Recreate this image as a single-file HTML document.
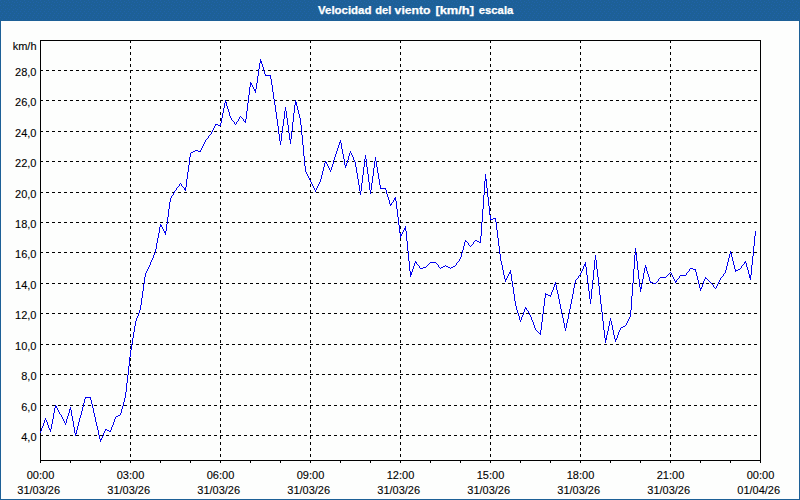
<!DOCTYPE html>
<html><head><meta charset="utf-8"><title>Velocidad del viento</title>
<style>
html,body{margin:0;padding:0;background:#fff;}
body{width:800px;height:500px;overflow:hidden;font-family:"Liberation Sans",sans-serif;}
svg{display:block;}
text{font-family:"Liberation Sans",sans-serif;font-size:11px;fill:#000;stroke:#000;stroke-width:0.1px;}
.t{font-weight:bold;fill:#fff;font-size:11px;stroke:#fff;stroke-width:0.25px;}
</style></head><body>
<svg width="800" height="500" viewBox="0 0 800 500">
<defs><pattern id="dz" width="8" height="21" patternUnits="userSpaceOnUse"><rect width="8" height="21" fill="#1d6097"/><rect x="0" y="0" width="1" height="1" fill="#2063aa"/><rect x="4" y="1" width="1" height="1" fill="#2063aa"/><rect x="1" y="2" width="1" height="1" fill="#2063aa"/><rect x="6" y="2" width="1" height="1" fill="#2063aa"/><rect x="3" y="4" width="1" height="1" fill="#2063aa"/><rect x="0" y="5" width="1" height="1" fill="#2063aa"/><rect x="5" y="5" width="1" height="1" fill="#2063aa"/><rect x="3" y="7" width="1" height="1" fill="#2063aa"/><rect x="7" y="8" width="1" height="1" fill="#2063aa"/><rect x="1" y="9" width="1" height="1" fill="#2063aa"/><rect x="5" y="9" width="1" height="1" fill="#2063aa"/><rect x="0" y="11" width="1" height="1" fill="#2063aa"/><rect x="4" y="11" width="1" height="1" fill="#2063aa"/><rect x="2" y="13" width="1" height="1" fill="#2063aa"/><rect x="6" y="13" width="1" height="1" fill="#2063aa"/><rect x="1" y="15" width="1" height="1" fill="#2063aa"/><rect x="5" y="15" width="1" height="1" fill="#2063aa"/><rect x="0" y="17" width="1" height="1" fill="#2063aa"/><rect x="4" y="17" width="1" height="1" fill="#2063aa"/><rect x="2" y="19" width="1" height="1" fill="#2063aa"/><rect x="6" y="19" width="1" height="1" fill="#2063aa"/></pattern></defs>
<rect x="0" y="0" width="800" height="500" fill="#1d6097"/>
<rect x="0" y="0" width="800" height="21" fill="url(#dz)"/>
<rect x="1" y="21" width="798" height="478" fill="#fdfefd"/>
<text class="t" x="318" y="14" textLength="53.5" lengthAdjust="spacingAndGlyphs">Velocidad</text><text class="t" x="375.3" y="14" textLength="16" lengthAdjust="spacingAndGlyphs">del</text><text class="t" x="394.6" y="14" textLength="36" lengthAdjust="spacingAndGlyphs">viento</text><text class="t" x="435.4" y="14" textLength="38.6" lengthAdjust="spacingAndGlyphs">[km/h]</text><text class="t" x="478.8" y="14" textLength="34.5" lengthAdjust="spacingAndGlyphs">escala</text>
<g shape-rendering="crispEdges" fill="none" stroke="#000" stroke-width="1">
<line x1="40" y1="70.5" x2="760" y2="70.5" stroke-dasharray="3 3"/>
<line x1="40" y1="100.5" x2="760" y2="100.5" stroke-dasharray="3 3"/>
<line x1="40" y1="131.5" x2="760" y2="131.5" stroke-dasharray="3 3"/>
<line x1="40" y1="161.5" x2="760" y2="161.5" stroke-dasharray="3 3"/>
<line x1="40" y1="192.5" x2="760" y2="192.5" stroke-dasharray="3 3"/>
<line x1="40" y1="222.5" x2="760" y2="222.5" stroke-dasharray="3 3"/>
<line x1="40" y1="252.5" x2="760" y2="252.5" stroke-dasharray="3 3"/>
<line x1="40" y1="283.5" x2="760" y2="283.5" stroke-dasharray="3 3"/>
<line x1="40" y1="313.5" x2="760" y2="313.5" stroke-dasharray="3 3"/>
<line x1="40" y1="344.5" x2="760" y2="344.5" stroke-dasharray="3 3"/>
<line x1="40" y1="374.5" x2="760" y2="374.5" stroke-dasharray="3 3"/>
<line x1="40" y1="405.5" x2="760" y2="405.5" stroke-dasharray="3 3"/>
<line x1="40" y1="435.5" x2="760" y2="435.5" stroke-dasharray="3 3"/>
<line x1="130.5" y1="40" x2="130.5" y2="460" stroke-dasharray="3 3"/>
<line x1="220.5" y1="40" x2="220.5" y2="460" stroke-dasharray="3 3"/>
<line x1="310.5" y1="40" x2="310.5" y2="460" stroke-dasharray="3 3"/>
<line x1="400.5" y1="40" x2="400.5" y2="460" stroke-dasharray="3 3"/>
<line x1="490.5" y1="40" x2="490.5" y2="460" stroke-dasharray="3 3"/>
<line x1="580.5" y1="40" x2="580.5" y2="460" stroke-dasharray="3 3"/>
<line x1="670.5" y1="40" x2="670.5" y2="460" stroke-dasharray="3 3"/>
<rect x="40.5" y="40.5" width="720" height="420"/>
<line x1="40.5" y1="461" x2="40.5" y2="463"/>
<line x1="70.5" y1="461" x2="70.5" y2="463"/>
<line x1="100.5" y1="461" x2="100.5" y2="463"/>
<line x1="130.5" y1="461" x2="130.5" y2="463"/>
<line x1="160.5" y1="461" x2="160.5" y2="463"/>
<line x1="190.5" y1="461" x2="190.5" y2="463"/>
<line x1="220.5" y1="461" x2="220.5" y2="463"/>
<line x1="250.5" y1="461" x2="250.5" y2="463"/>
<line x1="280.5" y1="461" x2="280.5" y2="463"/>
<line x1="310.5" y1="461" x2="310.5" y2="463"/>
<line x1="340.5" y1="461" x2="340.5" y2="463"/>
<line x1="370.5" y1="461" x2="370.5" y2="463"/>
<line x1="400.5" y1="461" x2="400.5" y2="463"/>
<line x1="430.5" y1="461" x2="430.5" y2="463"/>
<line x1="460.5" y1="461" x2="460.5" y2="463"/>
<line x1="490.5" y1="461" x2="490.5" y2="463"/>
<line x1="520.5" y1="461" x2="520.5" y2="463"/>
<line x1="550.5" y1="461" x2="550.5" y2="463"/>
<line x1="580.5" y1="461" x2="580.5" y2="463"/>
<line x1="610.5" y1="461" x2="610.5" y2="463"/>
<line x1="640.5" y1="461" x2="640.5" y2="463"/>
<line x1="670.5" y1="461" x2="670.5" y2="463"/>
<line x1="700.5" y1="461" x2="700.5" y2="463"/>
<line x1="730.5" y1="461" x2="730.5" y2="463"/>
<line x1="760.5" y1="461" x2="760.5" y2="463"/>
</g>
<path shape-rendering="crispEdges" fill="#0000f0" stroke="none" d="M40 431h1v2h-1zM41 428h1v3h-1zM42 426h1v2h-1zM43 423h1v3h-1zM44 420h1v3h-1zM45 418h1v2h-1zM46 420h1v2h-1zM47 422h1v3h-1zM48 425h1v3h-1zM49 428h1v2h-1zM50 429h1v3h-1zM51 424h1v5h-1zM52 419h1v5h-1zM53 413h1v6h-1zM54 408h1v5h-1zM55 405h1v3h-1zM56 406h1v2h-1zM57 408h1v2h-1zM58 410h1v2h-1zM59 412h1v2h-1zM60 414h1v1h-1zM61 415h1v2h-1zM62 417h1v2h-1zM63 419h1v2h-1zM64 421h1v2h-1zM65 423h1v2h-1zM66 419h1v4h-1zM67 416h1v3h-1zM68 413h1v3h-1zM69 409h1v4h-1zM70 407h1v3h-1zM71 410h1v6h-1zM72 416h1v5h-1zM73 421h1v6h-1zM74 427h1v6h-1zM75 433h1v3h-1zM76 430h1v4h-1zM77 426h1v4h-1zM78 422h1v4h-1zM79 418h1v4h-1zM80 415h1v3h-1zM81 411h1v4h-1zM82 407h1v4h-1zM83 403h1v4h-1zM84 399h1v4h-1zM85 397h1v2h-1zM86 397h1v1h-1zM87 397h1v1h-1zM88 397h1v1h-1zM89 397h1v1h-1zM90 397h1v3h-1zM91 400h1v4h-1zM92 404h1v4h-1zM93 408h1v5h-1zM94 413h1v4h-1zM95 417h1v5h-1zM96 422h1v4h-1zM97 426h1v4h-1zM98 430h1v5h-1zM99 435h1v4h-1zM100 439h1v3h-1zM101 438h1v2h-1zM102 436h1v2h-1zM103 433h1v3h-1zM104 431h1v2h-1zM105 429h1v2h-1zM106 429h1v1h-1zM107 430h1v1h-1zM108 430h1v1h-1zM109 431h1v1h-1zM110 430h1v2h-1zM111 427h1v3h-1zM112 425h1v2h-1zM113 422h1v3h-1zM114 419h1v3h-1zM115 417h1v2h-1zM116 416h1v1h-1zM117 416h1v1h-1zM118 415h1v1h-1zM119 415h1v1h-1zM120 413h1v2h-1zM121 409h1v4h-1zM122 406h1v3h-1zM123 402h1v4h-1zM124 398h1v4h-1zM125 392h1v6h-1zM126 383h1v9h-1zM127 375h1v8h-1zM128 366h1v9h-1zM129 357h1v9h-1zM130 350h1v7h-1zM131 344h1v6h-1zM132 338h1v6h-1zM133 332h1v6h-1zM134 326h1v6h-1zM135 321h1v5h-1zM136 318h1v3h-1zM137 316h1v2h-1zM138 313h1v3h-1zM139 310h1v3h-1zM140 305h1v5h-1zM141 298h1v7h-1zM142 291h1v7h-1zM143 284h1v7h-1zM144 277h1v7h-1zM145 273h1v4h-1zM146 271h1v2h-1zM147 269h1v2h-1zM148 267h1v2h-1zM149 265h1v2h-1zM150 262h1v3h-1zM151 260h1v2h-1zM152 258h1v2h-1zM153 255h1v3h-1zM154 253h1v2h-1zM155 249h1v4h-1zM156 243h1v6h-1zM157 238h1v5h-1zM158 233h1v5h-1zM159 227h1v6h-1zM160 224h1v3h-1zM161 225h1v2h-1zM162 227h1v2h-1zM163 229h1v2h-1zM164 231h1v2h-1zM165 231h1v4h-1zM166 224h1v7h-1zM167 217h1v7h-1zM168 209h1v8h-1zM169 202h1v7h-1zM170 198h1v4h-1zM171 196h1v2h-1zM172 195h1v1h-1zM173 193h1v2h-1zM174 191h1v2h-1zM175 190h1v1h-1zM176 188h1v2h-1zM177 187h1v1h-1zM178 186h1v1h-1zM179 184h1v2h-1zM180 183h1v1h-1zM181 184h1v2h-1zM182 186h1v1h-1zM183 187h1v1h-1zM184 188h1v2h-1zM185 187h1v4h-1zM186 179h1v8h-1zM187 172h1v7h-1zM188 165h1v7h-1zM189 157h1v8h-1zM190 153h1v4h-1zM191 152h1v1h-1zM192 152h1v1h-1zM193 151h1v1h-1zM194 151h1v1h-1zM195 150h1v1h-1zM196 150h1v1h-1zM197 150h1v1h-1zM198 151h1v1h-1zM199 151h1v1h-1zM200 150h1v2h-1zM201 148h1v2h-1zM202 146h1v2h-1zM203 144h1v2h-1zM204 142h1v2h-1zM205 140h1v2h-1zM206 139h1v1h-1zM207 138h1v1h-1zM208 136h1v2h-1zM209 135h1v1h-1zM210 134h1v1h-1zM211 132h1v2h-1zM212 130h1v2h-1zM213 128h1v2h-1zM214 126h1v2h-1zM215 124h1v2h-1zM216 124h1v1h-1zM217 124h1v1h-1zM218 125h1v1h-1zM219 125h1v1h-1zM220 123h1v3h-1zM221 118h1v5h-1zM222 113h1v5h-1zM223 108h1v5h-1zM224 103h1v5h-1zM225 100h1v3h-1zM226 102h1v4h-1zM227 106h1v3h-1zM228 109h1v3h-1zM229 112h1v4h-1zM230 116h1v2h-1zM231 118h1v2h-1zM232 120h1v1h-1zM233 121h1v1h-1zM234 122h1v2h-1zM235 124h1v1h-1zM236 122h1v2h-1zM237 121h1v1h-1zM238 119h1v2h-1zM239 117h1v2h-1zM240 116h1v1h-1zM241 117h1v1h-1zM242 118h1v1h-1zM243 119h1v2h-1zM244 121h1v1h-1zM245 119h1v4h-1zM246 111h1v8h-1zM247 103h1v8h-1zM248 95h1v8h-1zM249 87h1v8h-1zM250 82h1v5h-1zM251 83h1v2h-1zM252 85h1v2h-1zM253 87h1v2h-1zM254 89h1v2h-1zM255 89h1v4h-1zM256 83h1v6h-1zM257 76h1v7h-1zM258 69h1v7h-1zM259 63h1v6h-1zM260 59h1v4h-1zM261 61h1v3h-1zM262 64h1v3h-1zM263 67h1v4h-1zM264 71h1v3h-1zM265 74h1v2h-1zM266 75h1v1h-1zM267 75h1v1h-1zM268 75h1v1h-1zM269 75h1v1h-1zM270 75h1v4h-1zM271 79h1v6h-1zM272 85h1v7h-1zM273 92h1v7h-1zM274 99h1v6h-1zM275 105h1v7h-1zM276 112h1v7h-1zM277 119h1v7h-1zM278 126h1v8h-1zM279 134h1v7h-1zM280 141h1v4h-1zM281 133h1v8h-1zM282 126h1v7h-1zM283 119h1v7h-1zM284 111h1v8h-1zM285 107h1v4h-1zM286 111h1v7h-1zM287 118h1v7h-1zM288 125h1v8h-1zM289 133h1v7h-1zM290 139h1v5h-1zM291 131h1v8h-1zM292 122h1v9h-1zM293 113h1v9h-1zM294 105h1v8h-1zM295 100h1v5h-1zM296 102h1v4h-1zM297 106h1v4h-1zM298 110h1v4h-1zM299 114h1v4h-1zM300 118h1v7h-1zM301 125h1v10h-1zM302 135h1v10h-1zM303 145h1v11h-1zM304 156h1v10h-1zM305 166h1v6h-1zM306 172h1v2h-1zM307 174h1v2h-1zM308 176h1v2h-1zM309 178h1v2h-1zM310 180h1v2h-1zM311 182h1v2h-1zM312 184h1v2h-1zM313 186h1v2h-1zM314 188h1v2h-1zM315 190h1v2h-1zM316 188h1v2h-1zM317 186h1v2h-1zM318 184h1v2h-1zM319 182h1v2h-1zM320 179h1v3h-1zM321 175h1v4h-1zM322 171h1v4h-1zM323 167h1v4h-1zM324 163h1v4h-1zM325 161h1v2h-1zM326 162h1v2h-1zM327 164h1v2h-1zM328 166h1v2h-1zM329 168h1v2h-1zM330 170h1v2h-1zM331 167h1v3h-1zM332 164h1v3h-1zM333 160h1v4h-1zM334 157h1v3h-1zM335 154h1v3h-1zM336 151h1v3h-1zM337 148h1v3h-1zM338 145h1v3h-1zM339 142h1v3h-1zM340 140h1v3h-1zM341 143h1v6h-1zM342 149h1v5h-1zM343 154h1v5h-1zM344 159h1v6h-1zM345 165h1v3h-1zM346 163h1v3h-1zM347 160h1v3h-1zM348 156h1v4h-1zM349 153h1v3h-1zM350 151h1v2h-1zM351 153h1v2h-1zM352 155h1v2h-1zM353 157h1v3h-1zM354 160h1v2h-1zM355 162h1v5h-1zM356 167h1v6h-1zM357 173h1v6h-1zM358 179h1v6h-1zM359 185h1v6h-1zM360 191h1v4h-1zM361 183h1v8h-1zM362 175h1v8h-1zM363 167h1v8h-1zM364 159h1v8h-1zM365 155h1v4h-1zM366 159h1v8h-1zM367 167h1v7h-1zM368 174h1v8h-1zM369 182h1v8h-1zM370 190h1v4h-1zM371 183h1v7h-1zM372 176h1v7h-1zM373 168h1v8h-1zM374 161h1v7h-1zM375 157h1v4h-1zM376 161h1v6h-1zM377 167h1v6h-1zM378 173h1v6h-1zM379 179h1v6h-1zM380 185h1v4h-1zM381 188h1v1h-1zM382 188h1v1h-1zM383 188h1v1h-1zM384 188h1v1h-1zM385 188h1v2h-1zM386 190h1v4h-1zM387 194h1v3h-1zM388 197h1v3h-1zM389 200h1v4h-1zM390 204h1v2h-1zM391 203h1v2h-1zM392 202h1v1h-1zM393 200h1v2h-1zM394 198h1v2h-1zM395 197h1v4h-1zM396 201h1v8h-1zM397 209h1v8h-1zM398 217h1v8h-1zM399 225h1v8h-1zM400 233h1v5h-1zM401 234h1v2h-1zM402 232h1v2h-1zM403 230h1v2h-1zM404 228h1v2h-1zM405 226h1v5h-1zM406 231h1v10h-1zM407 241h1v10h-1zM408 251h1v10h-1zM409 261h1v10h-1zM410 271h1v6h-1zM411 272h1v3h-1zM412 269h1v3h-1zM413 266h1v3h-1zM414 263h1v3h-1zM415 261h1v2h-1zM416 262h1v2h-1zM417 264h1v1h-1zM418 265h1v1h-1zM419 266h1v2h-1zM420 268h1v1h-1zM421 268h1v1h-1zM422 268h1v1h-1zM423 267h1v1h-1zM424 267h1v1h-1zM425 267h1v1h-1zM426 266h1v1h-1zM427 265h1v1h-1zM428 264h1v1h-1zM429 263h1v1h-1zM430 262h1v1h-1zM431 262h1v1h-1zM432 262h1v1h-1zM433 262h1v1h-1zM434 262h1v1h-1zM435 262h1v1h-1zM436 263h1v1h-1zM437 264h1v1h-1zM438 265h1v2h-1zM439 267h1v1h-1zM440 268h1v1h-1zM441 267h1v1h-1zM442 267h1v1h-1zM443 266h1v1h-1zM444 266h1v1h-1zM445 265h1v1h-1zM446 266h1v1h-1zM447 266h1v1h-1zM448 267h1v1h-1zM449 267h1v1h-1zM450 268h1v1h-1zM451 267h1v1h-1zM452 267h1v1h-1zM453 266h1v1h-1zM454 266h1v1h-1zM455 265h1v1h-1zM456 263h1v2h-1zM457 262h1v1h-1zM458 261h1v1h-1zM459 259h1v2h-1zM460 257h1v2h-1zM461 253h1v4h-1zM462 250h1v3h-1zM463 246h1v4h-1zM464 242h1v4h-1zM465 240h1v2h-1zM466 241h1v1h-1zM467 242h1v1h-1zM468 243h1v2h-1zM469 245h1v1h-1zM470 246h1v1h-1zM471 245h1v1h-1zM472 244h1v1h-1zM473 242h1v2h-1zM474 241h1v1h-1zM475 240h1v1h-1zM476 240h1v1h-1zM477 241h1v1h-1zM478 241h1v1h-1zM479 242h1v1h-1zM480 236h1v7h-1zM481 222h1v14h-1zM482 209h1v13h-1zM483 195h1v14h-1zM484 181h1v14h-1zM485 174h1v7h-1zM486 179h1v9h-1zM487 188h1v9h-1zM488 197h1v9h-1zM489 206h1v9h-1zM490 215h1v5h-1zM491 219h1v1h-1zM492 219h1v1h-1zM493 218h1v1h-1zM494 218h1v1h-1zM495 218h1v4h-1zM496 222h1v8h-1zM497 230h1v8h-1zM498 238h1v8h-1zM499 246h1v8h-1zM500 254h1v7h-1zM501 261h1v4h-1zM502 265h1v5h-1zM503 270h1v5h-1zM504 275h1v4h-1zM505 279h1v3h-1zM506 278h1v2h-1zM507 276h1v2h-1zM508 274h1v2h-1zM509 272h1v2h-1zM510 270h1v4h-1zM511 274h1v7h-1zM512 281h1v6h-1zM513 287h1v7h-1zM514 294h1v7h-1zM515 301h1v5h-1zM516 306h1v4h-1zM517 310h1v3h-1zM518 313h1v3h-1zM519 316h1v4h-1zM520 320h1v2h-1zM521 317h1v3h-1zM522 315h1v2h-1zM523 312h1v3h-1zM524 309h1v3h-1zM525 307h1v2h-1zM526 308h1v2h-1zM527 310h1v1h-1zM528 311h1v2h-1zM529 313h1v2h-1zM530 315h1v2h-1zM531 317h1v3h-1zM532 320h1v2h-1zM533 322h1v3h-1zM534 325h1v3h-1zM535 328h1v2h-1zM536 330h1v1h-1zM537 331h1v1h-1zM538 332h1v1h-1zM539 333h1v1h-1zM540 330h1v5h-1zM541 322h1v8h-1zM542 314h1v8h-1zM543 306h1v8h-1zM544 298h1v8h-1zM545 293h1v5h-1zM546 294h1v1h-1zM547 294h1v1h-1zM548 295h1v1h-1zM549 295h1v1h-1zM550 295h1v2h-1zM551 292h1v3h-1zM552 290h1v2h-1zM553 287h1v3h-1zM554 284h1v3h-1zM555 282h1v3h-1zM556 285h1v5h-1zM557 290h1v4h-1zM558 294h1v5h-1zM559 299h1v5h-1zM560 304h1v5h-1zM561 309h1v5h-1zM562 314h1v4h-1zM563 318h1v5h-1zM564 323h1v5h-1zM565 328h1v3h-1zM566 323h1v5h-1zM567 319h1v4h-1zM568 314h1v5h-1zM569 309h1v5h-1zM570 304h1v5h-1zM571 299h1v5h-1zM572 294h1v5h-1zM573 288h1v6h-1zM574 283h1v5h-1zM575 280h1v3h-1zM576 279h1v1h-1zM577 278h1v1h-1zM578 276h1v2h-1zM579 275h1v1h-1zM580 273h1v2h-1zM581 271h1v2h-1zM582 269h1v2h-1zM583 266h1v3h-1zM584 264h1v2h-1zM585 262h1v5h-1zM586 267h1v8h-1zM587 275h1v8h-1zM588 283h1v8h-1zM589 291h1v8h-1zM590 299h1v5h-1zM591 289h1v10h-1zM592 280h1v9h-1zM593 270h1v10h-1zM594 260h1v10h-1zM595 255h1v5h-1zM596 260h1v9h-1zM597 269h1v8h-1zM598 277h1v9h-1zM599 286h1v9h-1zM600 295h1v9h-1zM601 304h1v8h-1zM602 312h1v9h-1zM603 321h1v9h-1zM604 330h1v8h-1zM605 338h1v5h-1zM606 335h1v5h-1zM607 331h1v4h-1zM608 326h1v5h-1zM609 321h1v5h-1zM610 318h1v3h-1zM611 321h1v4h-1zM612 325h1v5h-1zM613 330h1v5h-1zM614 335h1v4h-1zM615 339h1v3h-1zM616 338h1v2h-1zM617 335h1v3h-1zM618 332h1v3h-1zM619 330h1v2h-1zM620 328h1v2h-1zM621 327h1v1h-1zM622 327h1v1h-1zM623 326h1v1h-1zM624 326h1v1h-1zM625 325h1v1h-1zM626 323h1v2h-1zM627 321h1v2h-1zM628 319h1v2h-1zM629 317h1v2h-1zM630 310h1v7h-1zM631 296h1v14h-1zM632 283h1v13h-1zM633 269h1v14h-1zM634 255h1v14h-1zM635 248h1v7h-1zM636 253h1v8h-1zM637 261h1v9h-1zM638 270h1v9h-1zM639 279h1v8h-1zM640 287h1v5h-1zM641 284h1v5h-1zM642 279h1v5h-1zM643 273h1v6h-1zM644 268h1v5h-1zM645 265h1v3h-1zM646 267h1v4h-1zM647 271h1v3h-1zM648 274h1v3h-1zM649 277h1v4h-1zM650 281h1v2h-1zM651 282h1v1h-1zM652 282h1v1h-1zM653 283h1v1h-1zM654 283h1v1h-1zM655 283h1v1h-1zM656 282h1v1h-1zM657 281h1v1h-1zM658 279h1v2h-1zM659 278h1v1h-1zM660 277h1v1h-1zM661 277h1v1h-1zM662 277h1v1h-1zM663 277h1v1h-1zM664 277h1v1h-1zM665 277h1v1h-1zM666 276h1v1h-1zM667 275h1v1h-1zM668 274h1v1h-1zM669 273h1v1h-1zM670 272h1v1h-1zM671 273h1v2h-1zM672 275h1v2h-1zM673 277h1v2h-1zM674 279h1v2h-1zM675 281h1v2h-1zM676 280h1v2h-1zM677 279h1v1h-1zM678 278h1v1h-1zM679 276h1v2h-1zM680 275h1v1h-1zM681 275h1v1h-1zM682 275h1v1h-1zM683 275h1v1h-1zM684 275h1v1h-1zM685 275h1v1h-1zM686 273h1v2h-1zM687 272h1v1h-1zM688 271h1v1h-1zM689 269h1v2h-1zM690 268h1v1h-1zM691 268h1v1h-1zM692 268h1v1h-1zM693 269h1v1h-1zM694 269h1v1h-1zM695 269h1v3h-1zM696 272h1v4h-1zM697 276h1v4h-1zM698 280h1v4h-1zM699 284h1v4h-1zM700 288h1v3h-1zM701 287h1v2h-1zM702 284h1v3h-1zM703 281h1v3h-1zM704 279h1v2h-1zM705 277h1v2h-1zM706 278h1v1h-1zM707 279h1v1h-1zM708 280h1v1h-1zM709 281h1v1h-1zM710 282h1v1h-1zM711 283h1v1h-1zM712 284h1v1h-1zM713 285h1v2h-1zM714 287h1v1h-1zM715 288h1v1h-1zM716 286h1v2h-1zM717 284h1v2h-1zM718 282h1v2h-1zM719 280h1v2h-1zM720 278h1v2h-1zM721 277h1v1h-1zM722 276h1v1h-1zM723 274h1v2h-1zM724 273h1v1h-1zM725 270h1v3h-1zM726 266h1v4h-1zM727 262h1v4h-1zM728 258h1v4h-1zM729 254h1v4h-1zM730 251h1v3h-1zM731 253h1v4h-1zM732 257h1v4h-1zM733 261h1v4h-1zM734 265h1v4h-1zM735 269h1v3h-1zM736 270h1v1h-1zM737 270h1v1h-1zM738 269h1v1h-1zM739 269h1v1h-1zM740 268h1v1h-1zM741 266h1v2h-1zM742 265h1v1h-1zM743 264h1v1h-1zM744 262h1v2h-1zM745 261h1v2h-1zM746 263h1v4h-1zM747 267h1v3h-1zM748 270h1v4h-1zM749 274h1v4h-1zM750 275h1v5h-1zM751 265h1v10h-1zM752 256h1v9h-1zM753 246h1v10h-1zM754 236h1v10h-1zM755 231h1v5h-1z"/>
<text x="36.5" y="50" text-anchor="end">km/h</text>
<text x="36.5" y="76" text-anchor="end">28,0</text>
<text x="36.5" y="106" text-anchor="end">26,0</text>
<text x="36.5" y="137" text-anchor="end">24,0</text>
<text x="36.5" y="167" text-anchor="end">22,0</text>
<text x="36.5" y="198" text-anchor="end">20,0</text>
<text x="36.5" y="228" text-anchor="end">18,0</text>
<text x="36.5" y="258" text-anchor="end">16,0</text>
<text x="36.5" y="289" text-anchor="end">14,0</text>
<text x="36.5" y="319" text-anchor="end">12,0</text>
<text x="36.5" y="350" text-anchor="end">10,0</text>
<text x="36.5" y="380" text-anchor="end">8,0</text>
<text x="36.5" y="411" text-anchor="end">6,0</text>
<text x="36.5" y="441" text-anchor="end">4,0</text>
<text x="40.5" y="479" text-anchor="middle">00:00</text>
<text x="38.7" y="494" text-anchor="middle">31/03/26</text>
<text x="130.5" y="479" text-anchor="middle">03:00</text>
<text x="128.7" y="494" text-anchor="middle">31/03/26</text>
<text x="220.5" y="479" text-anchor="middle">06:00</text>
<text x="218.7" y="494" text-anchor="middle">31/03/26</text>
<text x="310.5" y="479" text-anchor="middle">09:00</text>
<text x="308.7" y="494" text-anchor="middle">31/03/26</text>
<text x="400.5" y="479" text-anchor="middle">12:00</text>
<text x="398.7" y="494" text-anchor="middle">31/03/26</text>
<text x="490.5" y="479" text-anchor="middle">15:00</text>
<text x="488.7" y="494" text-anchor="middle">31/03/26</text>
<text x="580.5" y="479" text-anchor="middle">18:00</text>
<text x="578.7" y="494" text-anchor="middle">31/03/26</text>
<text x="670.5" y="479" text-anchor="middle">21:00</text>
<text x="668.7" y="494" text-anchor="middle">31/03/26</text>
<text x="760.5" y="479" text-anchor="middle">00:00</text>
<text x="758.7" y="494" text-anchor="middle">01/04/26</text>
</svg></body></html>
